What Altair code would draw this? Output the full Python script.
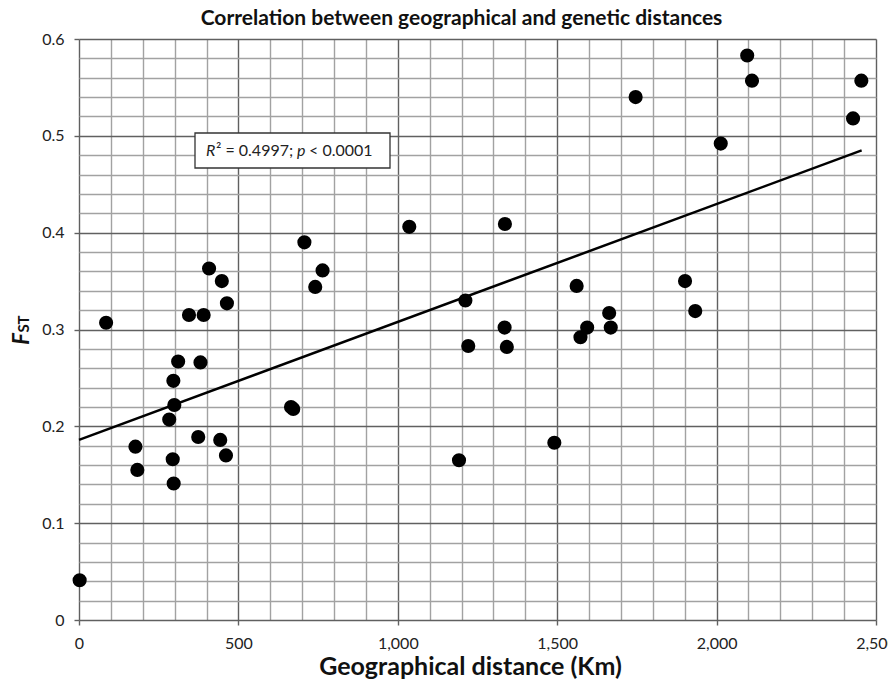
import altair as alt
import pandas as pd

# Scatter points: geographical distance (km) vs F_ST
dist = [2, 85, 177, 183, 283, 294, 296, 297, 299, 311, 345, 374, 381, 391, 408,
        443, 448, 461, 464, 665, 672, 707, 741, 764, 1036, 1192, 1212, 1221, 1335,
        1336, 1342, 1491, 1561, 1573, 1594, 1663, 1668, 1746, 1901, 1933, 2013,
        2096, 2111, 2428, 2454]
fst = [0.041, 0.307, 0.179, 0.155, 0.207, 0.166, 0.247, 0.141, 0.222, 0.267, 0.315,
       0.189, 0.266, 0.315, 0.363, 0.186, 0.350, 0.170, 0.327, 0.220, 0.218, 0.390,
       0.344, 0.361, 0.406, 0.165, 0.330, 0.283, 0.302, 0.409, 0.282, 0.183, 0.345,
       0.292, 0.302, 0.317, 0.302, 0.540, 0.350, 0.319, 0.492, 0.583, 0.557, 0.518,
       0.557]

# Fitted regression line end points
fit_x = [0, 2455]
fit_y = [0.186, 0.485]

# Tick values
x_ticks = list(range(0, 2501, 100))
y_ticks = [round(i * 0.02, 2) for i in range(31)]

FONT = "Lato"
TXT = "#222222"

pts = pd.DataFrame({"dist": dist, "fst": fst})
fit = pd.DataFrame({"dist": fit_x, "fst": fit_y})

x_axis = alt.Axis(
    values=x_ticks,
    tickCount=200,
    labelExpr="datum.value % 500 === 0 ? format(datum.value, ',') : ''",
    grid=True,
    gridColor={"condition": {"test": "datum.value % 500 === 0", "value": "#606060"}, "value": "#a2a2a2"},
    gridWidth=1.4,
    tickOpacity={"condition": {"test": "datum.value % 500 === 0", "value": 1}, "value": 0},
    tickColor="#606060",
    tickSize=5,
    tickWidth=1.4,
    domain=False,
    labelFlush=False,
    labelOverlap=False,
    labelFont=FONT,
    labelFontSize=16,
    labelColor=TXT,
    labelPadding=10,
    title="Geographical distance (Km)",
    titleFont=FONT,
    titleFontSize=25,
    titleFontWeight="bold",
    titleColor="#111111",
    titlePadding=3,
    titleX=391,
)

y_axis = alt.Axis(
    values=y_ticks,
    tickCount=200,
    labelExpr="round(datum.value * 50) % 5 === 0 ? format(datum.value, '.1~f') : ''",
    grid=True,
    gridColor={"condition": {"test": "round(datum.value * 50) % 5 === 0", "value": "#606060"}, "value": "#a2a2a2"},
    gridWidth=1.4,
    tickOpacity={"condition": {"test": "round(datum.value * 50) % 5 === 0", "value": 1}, "value": 0},
    tickColor="#606060",
    tickSize=5,
    tickWidth=1.4,
    domain=False,
    labelOverlap=False,
    labelFont=FONT,
    labelFontSize=16,
    labelColor=TXT,
    labelPadding=10,
    title=None,
)

xs = alt.Scale(domain=[0, 2500], nice=False, zero=False)
ys = alt.Scale(domain=[0, 0.6], nice=False, zero=False)

points = alt.Chart(pts).mark_circle(size=200, color="black", opacity=1).encode(
    x=alt.X("dist:Q", scale=xs, axis=x_axis),
    y=alt.Y("fst:Q", scale=ys, axis=y_axis),
)

line = alt.Chart(fit).mark_line(color="black", strokeWidth=2.5).encode(
    x="dist:Q", y="fst:Q"
)

box = alt.Chart(pd.DataFrame({"a": [0]})).mark_rect(
    fill="white", stroke="#333333", strokeWidth=1.3
).encode(x=alt.value(116), x2=alt.value(311), y=alt.value(94), y2=alt.value(129))

def seg(text, xpos, style="normal"):
    return alt.Chart(pd.DataFrame({"t": [text]})).mark_text(
        font=FONT, fontSize=16, fontStyle=style, color=TXT, align="left", baseline="middle"
    ).encode(text="t:N", x=alt.value(xpos), y=alt.value(112))

ann = seg("R", 127, "italic") + seg("² = 0.4997;", 137) + seg("p", 218, "italic") + seg("< 0.0001", 230)

ylab_f = alt.Chart(pd.DataFrame({"t": ["F"]})).mark_text(
    font=FONT, fontSize=22, fontStyle="italic", fontWeight="bold", color="#111111",
    angle=270, align="center", baseline="middle"
).encode(text="t:N", x=alt.value(-57), y=alt.value(300))
ylab_st = alt.Chart(pd.DataFrame({"t": ["ST"]})).mark_text(
    font=FONT, fontSize=15, fontWeight="bold", color="#111111",
    angle=270, align="center", baseline="middle"
).encode(text="t:N", x=alt.value(-55), y=alt.value(285))

chart = alt.layer(points, line, box, ann, ylab_f, ylab_st).properties(
    width=797,
    height=581,
    autosize=alt.AutoSizeParams(type="none"),
    padding={"left": 71, "top": 31, "right": 12, "bottom": 65},
    title=alt.TitleParams(
        "Correlation between geographical and genetic distances",
        font=FONT, fontSize=21, fontWeight="bold", color="#111111",
        anchor="middle", offset=2, dx=-16,
    ),
).configure_view(stroke=None).configure(background="white")

chart.save("out.html", embed_options={"renderer": "svg", "actions": False})
